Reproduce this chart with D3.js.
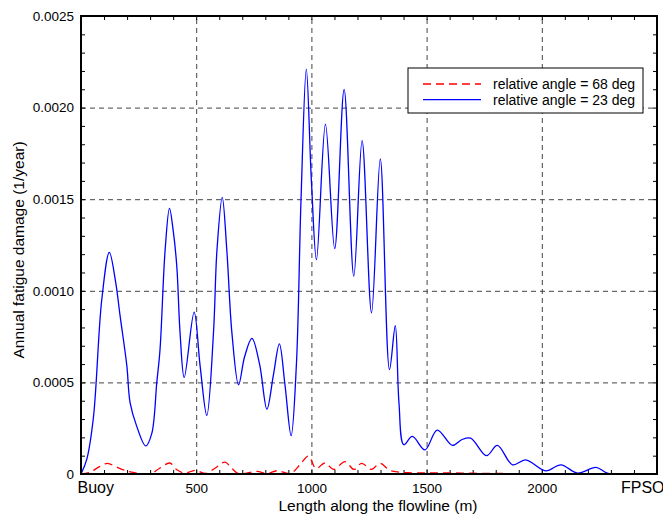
<!DOCTYPE html>
<html>
<head>
<meta charset="utf-8">
<script src="https://cdnjs.cloudflare.com/ajax/libs/d3/7.8.5/d3.min.js"></script>
<style>
body { margin: 0; background: #fff; }
text { font-family: Arial, "Liberation Sans", sans-serif; fill: #000; }
</style>
</head>
<body>
<div id="chart"></div>
<script>
// values
var xTickValues = [0, 500, 1000, 1500, 2000, 2500];
var xTickLabels = ["Buoy", "500", "1000", "1500", "2000", "FPSO"];
var yTickValues = [0, 0.0005, 0.0010, 0.0015, 0.0020, 0.0025];
var yTickLabels = ["0", "0.0005", "0.0010", "0.0015", "0.0020", "0.0025"];

var seriesNames = ["relative angle = 68 deg", "relative angle = 23 deg"];

// relative angle = 68 deg (red dashed)
var angle68Length = [0, 40, 80, 115, 150, 190, 220, 256, 300, 340, 385, 416, 450, 496, 539, 580, 625, 655,
    684, 764, 808, 851, 909, 950, 987, 1020, 1059, 1097, 1146, 1185, 1218, 1260, 1298, 1340, 1380, 1420,
    1500, 1600, 1700, 1800, 1940];
var angle68Damage = [0, 0.00001, 0.00004, 0.000058, 0.00004, 0.00002, 0.00001, 0.000003, 0, 0.00003, 0.00006, 0.000023,
    0.000005, 0.00002, 0.000003, 0.00003, 0.000065, 0.00003, 0.000002, 0.000014, 0.000002, 0.000018, 0.000003,
    0.00005, 0.000098, 0.00003, 0.00006, 0.000025, 0.000067, 0.000025, 0.000058, 0.000025, 0.000058, 0.00002,
    0.00001, 0.000007, 0.000006, 0.000006, 0.000004, 0.000003, 0.000002];

// relative angle = 23 deg (blue solid)
var angle23Length = [0, 25, 54, 90, 123, 150, 170, 199, 213, 242, 281, 307, 329, 343, 365, 384, 401, 416, 430, 448,
    491, 517, 546, 575, 590, 613, 633, 655, 684, 710, 742, 775, 807, 835, 861, 885, 912, 935, 955, 978, 1000,
    1022, 1061, 1101, 1142, 1184, 1220, 1261, 1299, 1339, 1364, 1380, 1401, 1438, 1493, 1546, 1612, 1652, 1691,
    1760, 1807, 1873, 1930, 2017, 2083, 2155, 2235, 2278, 2300];
var angle23Damage = [0, 0.00008, 0.00031, 0.00095, 0.00121, 0.00105, 0.00086, 0.00059, 0.00039, 0.00026, 0.000153,
    0.00022, 0.0005, 0.00068, 0.00122, 0.00145, 0.00132, 0.00113, 0.00077, 0.000527, 0.000884, 0.00059, 0.00032,
    0.00077, 0.00122, 0.00151, 0.00122, 0.00077, 0.000487, 0.00064, 0.00074, 0.0006, 0.000354, 0.00054, 0.00071,
    0.00049, 0.000209, 0.0006, 0.0015, 0.00221, 0.0016, 0.00117, 0.00191, 0.00123, 0.0021, 0.00108, 0.00182,
    0.00088, 0.00172, 0.00057, 0.00081, 0.00039, 0.00016, 0.000205, 0.000132, 0.00024, 0.000156, 0.000187,
    0.000196, 0.0001, 0.000156, 0.00005, 0.000077, 0.000017, 0.00005, 0.000005, 0.000036, 0.000008, 0];

makePlot();

function makePlot() {
    // STEP 1: canvas
    var svgWidth = 663;
    var svgHeight = 516;
    var margin = { top: 16, right: 6, bottom: 42, left: 81 };
    var chart_width = svgWidth - margin.left - margin.right;
    var chart_height = svgHeight - margin.top - margin.bottom;

    var svg = d3.select("#chart")
        .append("svg")
        .attr("width", svgWidth)
        .attr("height", svgHeight);

    var chartGroup = svg.append("g")
        .attr("transform", `translate(${margin.left}, ${margin.top})`);

    // STEP 2: scales
    var xScale = d3.scaleLinear()
        .domain([xTickValues[0], xTickValues[xTickValues.length - 1]])
        .range([0, chart_width]);

    var yScale = d3.scaleLinear()
        .domain([yTickValues[0], yTickValues[yTickValues.length - 1]])
        .range([chart_height, 0]);

    // STEP 3: dashed grid
    var gridX = chartGroup.append("g")
        .attr("transform", `translate(0, ${chart_height})`)
        .call(d3.axisBottom(xScale).tickValues(xTickValues.slice(1, -1)).tickSize(-chart_height).tickFormat(""));
    var gridY = chartGroup.append("g")
        .call(d3.axisLeft(yScale).tickValues(yTickValues.slice(1, -1)).tickSize(-chart_width).tickFormat(""));
    [gridX, gridY].forEach(function(g) {
        g.select(".domain").remove();
        g.selectAll("line")
            .attr("stroke", "#444")
            .attr("stroke-width", 1)
            .attr("stroke-dasharray", "5,4");
    });

    // STEP 4: minor ticks on all four sides, pointing in
    var xMinor = d3.range(0, 26).map(i => i * 100);
    var yMinor = d3.range(0, 26).map(i => i * 0.0001);
    var tickAxes = [
        chartGroup.append("g").attr("transform", `translate(0, ${chart_height})`)
            .call(d3.axisBottom(xScale).tickValues(xMinor).tickSize(-4).tickFormat("")),
        chartGroup.append("g")
            .call(d3.axisTop(xScale).tickValues(xMinor).tickSize(-4).tickFormat("")),
        chartGroup.append("g")
            .call(d3.axisLeft(yScale).tickValues(yMinor).tickSize(-4).tickFormat("")),
        chartGroup.append("g").attr("transform", `translate(${chart_width}, 0)`)
            .call(d3.axisRight(yScale).tickValues(yMinor).tickSize(-4).tickFormat(""))
    ];
    tickAxes.forEach(function(g) {
        g.select(".domain").remove();
        g.selectAll("line").attr("stroke", "#000").attr("stroke-width", 1);
    });

    // STEP 5: tick labels
    var bottomAxis = chartGroup.append("g")
        .attr("transform", `translate(0, ${chart_height})`)
        .call(d3.axisBottom(xScale).tickValues(xTickValues).tickSize(0).tickFormat((d, i) => xTickLabels[i]));
    bottomAxis.select(".domain").remove();
    bottomAxis.selectAll("text")
        .attr("y", 19)
        .attr("dy", null)
        .attr("font-size", "13.5px")
        .attr("fill", "#000");
    bottomAxis.selectAll("text")
        .filter((d, i) => i === 0)
        .attr("text-anchor", "start")
        .attr("x", -4)
        .attr("font-size", "16px");
    bottomAxis.selectAll("text")
        .filter((d, i) => i === xTickValues.length - 1)
        .attr("text-anchor", "end")
        .attr("x", 7)
        .attr("font-size", "16px");

    var leftAxis = chartGroup.append("g")
        .call(d3.axisLeft(yScale).tickValues(yTickValues).tickSize(0).tickPadding(7).tickFormat((d, i) => yTickLabels[i]));
    leftAxis.select(".domain").remove();
    leftAxis.selectAll("text")
        .attr("font-size", "13.5px")
        .attr("fill", "#000");

    // STEP 6: lines
    svg.append("defs").append("clipPath")
        .attr("id", "plotClip")
        .append("rect")
        .attr("width", chart_width)
        .attr("height", chart_height);

    var line = d3.line()
        .x(d => xScale(d[0]))
        .y(d => yScale(d[1]))
        .curve(d3.curveCatmullRom.alpha(0.5));

    var red68 = angle68Length.map((x, i) => [x, angle68Damage[i]]);
    var blue23 = angle23Length.map((x, i) => [x, angle23Damage[i]]);

    var linesGroup = chartGroup.append("g").attr("clip-path", "url(#plotClip)");

    linesGroup.append("path")
        .datum(red68)
        .attr("d", line)
        .attr("fill", "none")
        .attr("stroke", "#ff0000")
        .attr("stroke-width", 1.3)
        .attr("stroke-dasharray", "8,5");

    linesGroup.append("path")
        .datum(blue23)
        .attr("d", line)
        .attr("fill", "none")
        .attr("stroke", "#0000ff")
        .attr("stroke-width", 1.3);

    // frame
    chartGroup.append("rect")
        .attr("width", chart_width)
        .attr("height", chart_height)
        .attr("fill", "none")
        .attr("stroke", "#000")
        .attr("stroke-width", 2);

    // STEP 7: axis titles
    chartGroup.append("text")
        .attr("transform", "rotate(-90)")
        .attr("x", -(chart_height / 2) - 5)
        .attr("y", -margin.left + 24)
        .attr("text-anchor", "middle")
        .attr("font-size", "15.5px")
        .text("Annual fatigue damage (1/year)");

    chartGroup.append("text")
        .attr("x", chart_width / 2 + 9)
        .attr("y", chart_height + 37)
        .attr("text-anchor", "middle")
        .attr("font-size", "15.5px")
        .text("Length along the flowline (m)");

    // STEP 8: legend
    var legend = chartGroup.append("g")
        .attr("transform", "translate(327, 52)");

    legend.append("rect")
        .attr("width", 235)
        .attr("height", 45)
        .attr("fill", "#fff")
        .attr("stroke", "#000")
        .attr("stroke-width", 1);

    var legendStyles = [
        { color: "#ff0000", dash: "8,5" },
        { color: "#0000ff", dash: null }
    ];

    seriesNames.forEach(function(name, i) {
        var rowY = 16 + i * 15.7;
        legend.append("line")
            .attr("x1", 15)
            .attr("x2", 73)
            .attr("y1", rowY)
            .attr("y2", rowY)
            .attr("stroke", legendStyles[i].color)
            .attr("stroke-width", 1.3)
            .attr("stroke-dasharray", legendStyles[i].dash);
        legend.append("text")
            .attr("x", 85)
            .attr("y", rowY + 5)
            .attr("font-size", "14px")
            .text(name);
    });
}
</script>
</body>
</html>
